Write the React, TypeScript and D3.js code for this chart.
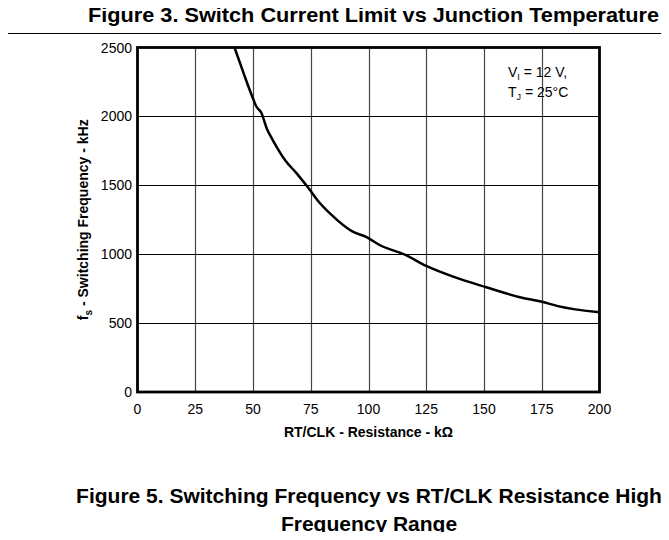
import * as d3 from 'd3';
import React, { useEffect, useRef } from 'react';

// RT/CLK resistance (kOhm) vs switching frequency (kHz)
const resistance = [42, 46, 50, 51.5, 53.5, 56, 58.5, 64, 69, 74, 78, 84, 93, 99, 105, 116, 125, 137, 151, 166, 175, 182, 200];
const frequency = [2500, 2310, 2130, 2070, 2030, 1910, 1830, 1680, 1585, 1480, 1390, 1285, 1165, 1125, 1065, 995, 915, 835, 760, 686, 655, 623, 578];
const xTicks = [0, 25, 50, 75, 100, 125, 150, 175, 200];
const yTicks = [0, 500, 1000, 1500, 2000, 2500];

const W = 669;
const H = 540;
const FONT = 'Arial, "Liberation Sans", sans-serif';

const Chart = () => {
  const svgRef = useRef<SVGSVGElement>(null);

  useEffect(() => {
    const svg = d3.select(svgRef.current);
    svg.selectAll('*').remove();

    const left = 137.5;
    const right = 599.5;
    const top = 47.5;
    const bottom = 392;

    const x = d3.scaleLinear().domain([0, 200]).range([left, right]);
    const y = d3.scaleLinear().domain([0, 2500]).range([bottom, top]);

    svg.append('rect').attr('width', W).attr('height', H).attr('fill', '#fff');

    // page frame lines
    svg.append('line').attr('x1', 6.5).attr('x2', 6.5).attr('y1', 0).attr('y2', H)
      .attr('stroke', '#000').attr('stroke-width', 1.2);
    svg.append('line').attr('x1', 6).attr('x2', W).attr('y1', 33.5).attr('y2', 33.5)
      .attr('stroke', '#000').attr('stroke-width', 1.2);

    svg.append('text')
      .attr('x', 88).attr('y', 22)
      .attr('font-family', FONT).attr('font-weight', 'bold').attr('font-size', 20)
      .attr('textLength', 571).attr('lengthAdjust', 'spacingAndGlyphs')
      .text('Figure 3. Switch Current Limit vs Junction Temperature');

    // grid
    const g = svg.append('g');
    g.selectAll('.vgrid')
      .data(xTicks.slice(1, -1))
      .join('line')
      .attr('class', 'vgrid')
      .attr('x1', (d) => Math.round(x(d)) + 0.5).attr('x2', (d) => Math.round(x(d)) + 0.5)
      .attr('y1', top).attr('y2', bottom)
      .attr('stroke', '#444').attr('stroke-width', 1.2);
    g.selectAll('.hgrid')
      .data(yTicks.slice(1, -1))
      .join('line')
      .attr('class', 'hgrid')
      .attr('x1', left).attr('x2', right)
      .attr('y1', (d) => Math.round(y(d)) + 0.5).attr('y2', (d) => Math.round(y(d)) + 0.5)
      .attr('stroke', '#000').attr('stroke-width', 1.2);

    // curve
    const line = d3.line<number>()
      .x((d, i) => x(resistance[i]))
      .y((d) => y(d))
      .curve(d3.curveMonotoneX);
    svg.append('path')
      .datum(frequency)
      .attr('d', line)
      .attr('fill', 'none')
      .attr('stroke', '#000')
      .attr('stroke-width', 2.5)
      .attr('stroke-linejoin', 'round');

    // frame
    svg.append('rect')
      .attr('x', left).attr('y', top)
      .attr('width', right - left).attr('height', bottom - top)
      .attr('fill', 'none').attr('stroke', '#000').attr('stroke-width', 2.8);

    // axes labels
    svg.selectAll('.xtick')
      .data(xTicks)
      .join('text')
      .attr('class', 'xtick')
      .attr('x', (d) => x(d)).attr('y', 414)
      .attr('text-anchor', 'middle')
      .attr('font-family', FONT).attr('font-size', 14)
      .text((d) => d);
    svg.selectAll('.ytick')
      .data(yTicks)
      .join('text')
      .attr('class', 'ytick')
      .attr('x', left - 5.5).attr('y', (d) => y(d) + 5)
      .attr('text-anchor', 'end')
      .attr('font-family', FONT).attr('font-size', 14)
      .text((d) => d);

    svg.append('text')
      .attr('x', (left + right) / 2).attr('y', 437)
      .attr('text-anchor', 'middle')
      .attr('font-family', FONT).attr('font-weight', 'bold').attr('font-size', 14)
      .text('RT/CLK - Resistance - k\u03A9');

    const yl = svg.append('text')
      .attr('transform', `translate(88,${(top + bottom) / 2}) rotate(-90)`)
      .attr('text-anchor', 'middle')
      .attr('font-family', FONT).attr('font-weight', 'bold').attr('font-size', 14);
    yl.append('tspan').text('f');
    yl.append('tspan').attr('font-size', 10).attr('dy', 4).text('s');
    yl.append('tspan').attr('dy', -4).text(' - Switching Frequency - kHz');

    // conditions note
    const n1 = svg.append('text')
      .attr('x', 508).attr('y', 77)
      .attr('font-family', FONT).attr('font-size', 14);
    n1.append('tspan').text('V');
    n1.append('tspan').attr('font-size', 9).attr('dy', 3).text('I');
    n1.append('tspan').attr('dy', -3).text(' = 12 V,');
    const n2 = svg.append('text')
      .attr('x', 508).attr('y', 97)
      .attr('font-family', FONT).attr('font-size', 14);
    n2.append('tspan').text('T');
    n2.append('tspan').attr('font-size', 9).attr('dy', 3).text('J');
    n2.append('tspan').attr('dy', -3).text(' = 25\u00B0C');

    // figure caption
    svg.append('text')
      .attr('x', 369).attr('y', 503)
      .attr('text-anchor', 'middle')
      .attr('font-family', FONT).attr('font-weight', 'bold').attr('font-size', 21)
      .text('Figure 5. Switching Frequency vs RT/CLK Resistance High');
    svg.append('text')
      .attr('x', 369).attr('y', 531)
      .attr('text-anchor', 'middle')
      .attr('font-family', FONT).attr('font-weight', 'bold').attr('font-size', 21)
      .text('Frequency Range');
  }, []);

  return <svg ref={svgRef} width={W} height={H} style={{ display: 'block' }} />;
};

export default function App() {
  return (
    <div style={{ margin: -8 }}>
      <Chart />
    </div>
  );
}
